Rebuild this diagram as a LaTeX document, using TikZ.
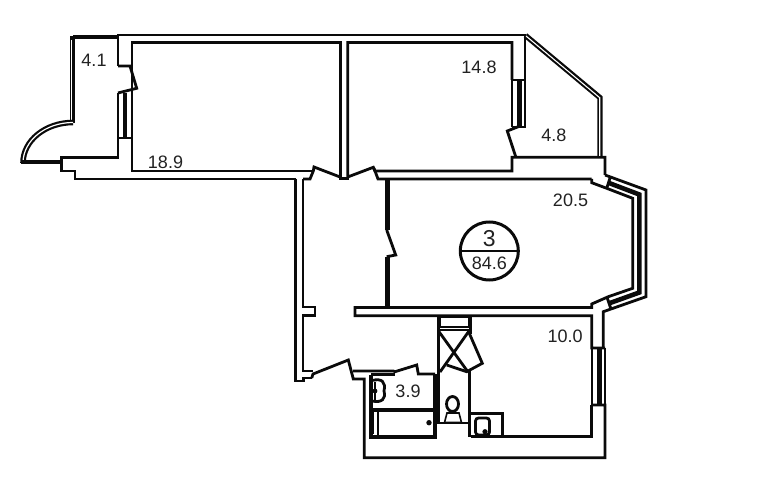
\documentclass[tikz,border=0pt]{standalone}
\usepackage{fontspec}
\setmainfont{Liberation Sans}
\definecolor{ink}{HTML}{0A0A0A}
\definecolor{txt}{HTML}{222222}
\tikzset{
  wall/.style={draw=ink,line width=2.8pt,line join=miter},
  thin wall/.style={draw=ink,line width=1.6pt},
  heavy/.style={draw=ink,line width=4.6pt},
  lbl/.style={text=txt,font=\fontsize{18}{18}\selectfont,inner sep=0pt},
}
\begin{document}
\begin{tikzpicture}[x=1pt,y=-1pt]
\useasboundingbox[fill=white] (0,0) rectangle (767,502);
% outer top and room 18.9 / 14.8
\draw[wall] (118,66) -- (118,35) -- (525,35) -- (525,80) -- (512,80);
\draw[wall] (512,80) -- (512,42.5) -- (347.7,42.5) -- (347.7,177) -- (373.3,167.3) -- (375,171) -- (512,171) -- (512,157.3) -- (605,157.3) -- (605,175);
\draw[wall] (340.7,177) -- (340.7,42.5) -- (132,42.5) -- (132,93);
\draw[wall] (132,138) -- (132,171) -- (311,171) -- (313.3,171);
% left door and corridor top
\draw[wall] (118,66) -- (130,66) -- (136.7,88.3) -- (118,93);
\draw[wall] (118,138) -- (118,157.7) -- (61.7,157.7) -- (61.7,171) -- (75,171) -- (75,179) -- (295.7,179);
\draw[wall] (118,138) -- (132,138);
\draw[thin wall] (118,93) -- (118,138);
\draw[thin wall] (132,93) -- (132,138);
\draw[heavy] (125,93) -- (125,137);
\draw[wall] (303,179) -- (310,179) -- (313.3,171) -- (314,167) -- (339.3,176.7);
\draw[wall] (339.3,178.8) -- (348.5,178.8);
\draw[wall] (373.3,167.3) -- (375,171) -- (378,179) -- (591.7,179);
% balcony
\draw[heavy,line width=4pt] (118,37.5) -- (73,37.5);
\draw[draw=ink,line width=5.4pt] (72.5,36) -- (72.5,123);
\draw[draw=white,line width=1pt] (71.6,40) -- (71.6,122);
\draw[draw=ink,line width=5.6pt] (73,122.5) arc[start angle=-90,end angle=-180,x radius=50,y radius=40.5];
\draw[draw=white,line width=1.2pt] (73,122.5) arc[start angle=-90,end angle=-180,x radius=50,y radius=40.5];
\draw[heavy,line width=4pt] (21,162) -- (61.7,162);
% corridor walls
\draw[wall] (295.5,179) -- (295.5,381) -- (303.5,381) -- (303.5,378) -- (311.7,378);
\draw[wall] (303,179) -- (303,307) -- (315,307) -- (315,315.7) -- (303,315.7) -- (303,371) -- (313,371);
\draw[wall] (311.7,378) -- (313,374) -- (348.3,360) -- (353.3,379) -- (364.3,379) -- (364.3,457.7) -- (605,457.7) -- (605,405) -- (592,405);
\draw[wall] (353,371) -- (393.3,371) -- (395,371.7) -- (416.7,365) -- (418.3,374) -- (435,374);
\draw[wall] (371,374.5) -- (395,374.5);
% central thick wall
\draw[draw=ink,line width=4.8pt] (387.3,179) -- (387.3,230) (387.3,257) -- (387.3,308);
\draw[wall] (386.7,230) -- (395.7,255) -- (386.7,256.7);
\draw[wall] (591.7,179) -- (591.7,182.7) -- (606.7,188.3) -- (632.7,198.3) -- (632.7,288.3) -- (608.3,296.7) -- (591.7,304) -- (591.7,307.5) -- (355,307.5) -- (355,315.7) -- (591.7,315.7) -- (591.7,348) -- (605,348);
\draw[wall] (591.7,405) -- (591.7,436.5) -- (470.7,436.5);
\draw[thin wall] (591.7,348) -- (591.7,405);
\draw[thin wall] (605,348) -- (605,405);
\draw[heavy] (599.3,348) -- (599.3,405);
% loggia
\draw[thin wall] (512,80) -- (512,127);
\draw[thin wall] (525,80) -- (525,127.5);
\draw[wall] (512,127) -- (525.8,127);
\draw[heavy] (519.5,81) -- (519.5,126);
\draw[wall] (518.3,126.7) -- (507.3,131) -- (515.7,156.7);
\draw[draw=ink,line width=5.4pt] (525.5,35.5) -- (600,97.7) -- (600,157);
\draw[draw=white,line width=1.1pt] (526,36) -- (599.7,97.7) -- (599.7,156);
% bay window
\draw[wall] (605,175) -- (646,190) -- (646,296.7) -- (603.3,311.7) -- (603.3,348);
\draw[wall] (610,178) -- (606.7,188.3);
\draw[wall] (607.3,298) -- (610.7,308.3);
\draw[heavy] (609,183) -- (639.3,194.5) -- (639.3,292.5) -- (610,303);
% shaft and WC
\draw[wall] (438.3,315.7) -- (438.3,423) -- (468,423);
\draw[wall] (470.7,315.7) -- (470.7,334);
\draw[wall] (438,330) -- (471,330);
\draw[thin wall] (440.5,317) rectangle (468.3,327);
\draw[wall] (438.5,331) -- (468,372);
\draw[wall] (469,331) -- (440,372);
\draw[wall] (469.3,333.3) -- (482.3,363.3) -- (466.7,371.7) -- (446.7,365);
\draw[draw=ink,line width=3.8pt] (469.5,371) -- (469.5,436.5);
% closet
\draw[wall] (470.7,413.3) -- (502.3,413.3) -- (502.3,436.5);
\draw[wall,rounded corners=3pt] (475.5,418) rectangle (489.5,435);
\fill[ink] (485,431.7) circle (2.6);
% toilet
\draw[wall] (452.5,404) ellipse (6 and 7.5);
\draw[thin wall] (447,413) -- (444.5,422.5) -- (461.5,422.5) -- (459,413) -- cycle;
% bath
\draw[draw=ink,line width=3.8pt] (434.8,374) -- (434.8,437) -- (371,437) -- (371,374.5);
\draw[draw=ink,line width=3.6pt] (371,410) -- (434.8,410);
\draw[wall] (378,411) -- (378,435.5);
\draw[thin wall] (373.5,412) -- (373.5,434);
\fill[ink] (429,422.7) circle (2.7);
% basin
\draw[wall] (372,380.5) .. controls (382,378) and (386,382) .. (384,391) .. controls (386,399) and (382,403) .. (372,401);
\draw[thin wall] (375,382) -- (375,400);
\fill[ink] (375,391) circle (2.4);
% labels
\node[lbl] (n41) at (94,60) {4.1};
\node[lbl] (n189) at (165.5,162) {18.9};
\node[lbl] (n148) at (479,67) {14.8};
\node[lbl] (n48) at (553.8,135.4) {4.8};
\node[lbl] (n205) at (570.5,200) {20.5};
\node[lbl] (n100) at (565.2,336) {10.0};
\node[lbl] (n39) at (408,391) {3.9};
% plate
\node[draw=ink,line width=3pt,circle,minimum size=58pt,inner sep=0pt] (plate) at (489.3,251) {};
\draw[draw=ink,line width=2.8pt] (plate.west) -- (plate.east);
\node[lbl,font=\fontsize{23}{23}\selectfont] (num) at (489.3,238.5) {3};
\node[lbl] (area) at (489.3,263.5) {84.6};
\end{tikzpicture}
\end{document}
